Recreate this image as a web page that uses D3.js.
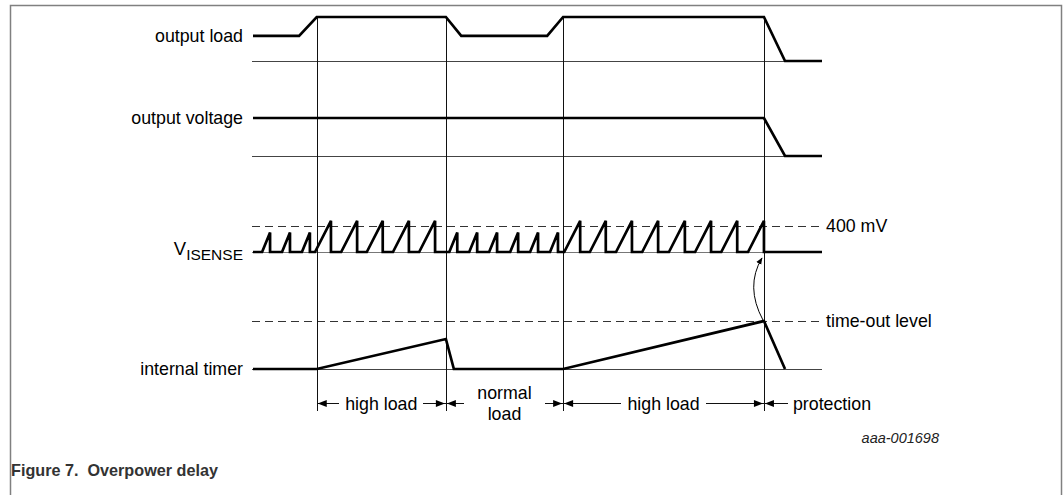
<!DOCTYPE html>
<html><head><meta charset="utf-8">
<script src="https://cdn.jsdelivr.net/npm/d3@7"></script>
<style>
html,body{margin:0;padding:0;background:#fff;}
svg{display:block;font-family:"Liberation Sans",Arial,sans-serif;}
</style></head><body>
<svg id="chart" width="1064" height="495"></svg>
<script>
// ---------------- data (time in arbitrary units 0..100) ----------------
const timeDomain = [0, 100];
const phaseBoundaries = [11.2, 33.9, 54.5, 89.8];
const phaseLabels = [["high load"], ["normal", "load"], ["high load"], ["protection"]];
const signalLabels = ["output load", "output voltage", "V", "internal timer"];
const visenseSub = "ISENSE";
const thresholdLabel = "400 mV";
const timeoutLabel = "time-out level";
const figureId = "aaa-001698";
const caption = "Figure 7.  Overpower delay";

const outputLoadT = [0, 8.1, 11.2, 33.9, 36.6, 51.7, 54.5, 89.8, 93.5, 100];
const outputLoadV = [0.57, 0.57, 1, 1, 0.57, 0.57, 1, 1, 0, 0];
const outputVoltageT = [0, 89.8, 93.5, 100];
const outputVoltageV = [1, 1, 0, 0];
const timerT = [0, 11.2, 33.9, 35.3, 54.5, 89.8, 93.5];
const timerV = [0, 0, 0.625, 0, 0, 1, 0];

// V_ISENSE sawtooth: peak time, peak value (mV), ramp duration
const visensePeakT = [3.0, 6.5, 10.0, 13.7, 18.3, 22.8, 27.4, 32.0,
  35.9, 39.4, 42.9, 46.6, 50.1, 53.6,
  57.5, 62.0, 66.6, 71.2, 75.9, 80.5, 85.1, 89.8];
const visensePeakMV = [300, 300, 300, 480, 480, 480, 480, 480,
  300, 300, 300, 300, 300, 300,
  480, 480, 480, 480, 480, 480, 480, 480];
const visenseRamp = [1.4, 1.4, 1.4, 2.8, 2.8, 2.8, 2.8, 2.8,
  1.4, 1.4, 1.4, 1.4, 1.4, 1.4,
  2.8, 2.8, 2.8, 2.8, 2.8, 2.8, 2.8, 2.8];
const thresholdMV = 400;
const timeoutLevel = 1;

// ---------------- drawing ----------------
const svg = d3.select("#chart");
const ink = "#000";
const FS = 17.8;

// frame
svg.append("rect").attr("x", 10.5).attr("y", 5.5).attr("width", 1051).attr("height", 520)
  .attr("fill", "none").attr("stroke", "#808080").attr("stroke-width", 1.5);

const x = d3.scaleLinear().domain(timeDomain).range([253, 822]);
const xBase = [252, 822];
const yLoad = d3.scaleLinear().domain([0, 1]).range([61, 17]);
const yVolt = d3.scaleLinear().domain([0, 1]).range([156, 118]);
const yVis = d3.scaleLinear().domain([0, thresholdMV]).range([252, 226]);
const yTim = d3.scaleLinear().domain([0, 1]).range([369, 321]);

const thin = (x1, y1, x2, y2, dash) => {
  const l = svg.append("line").attr("x1", x1).attr("y1", y1).attr("x2", x2).attr("y2", y2)
    .attr("stroke", "#111").attr("stroke-width", 1).attr("shape-rendering", "crispEdges");
  if (dash) l.attr("stroke-dasharray", dash);
  return l;
};

// thin baselines
thin(xBase[0], yLoad(0) + 0.5, xBase[1], yLoad(0) + 0.5).attr("stroke", "#444");
thin(xBase[0], yVolt(0) + 0.5, xBase[1], yVolt(0) + 0.5).attr("stroke", "#444");
thin(xBase[0], yVis(0) + 0.5, xBase[1], yVis(0) + 0.5).attr("stroke", "#777");
thin(xBase[0], yTim(0) + 0.5, xBase[1], yTim(0) + 0.5).attr("stroke", "#444");

// dashed reference levels
thin(xBase[0], yVis(thresholdMV) + 0.5, 820, yVis(thresholdMV) + 0.5, "8,5").attr("stroke", "#333");
thin(xBase[0], yTim(timeoutLevel) + 0.5, 820, yTim(timeoutLevel) + 0.5, "8,5").attr("stroke", "#333");

// vertical phase lines
phaseBoundaries.forEach(t => thin(Math.round(x(t)) + 0.5, yLoad(1), Math.round(x(t)) + 0.5, 411));

// signals
const drawSig = (pts, y) => svg.append("path")
  .attr("d", d3.line().x(d => x(d[0])).y(d => y(d[1]))(pts))
  .attr("fill", "none").attr("stroke", ink).attr("stroke-width", 2.7)
  .attr("stroke-linejoin", "miter");

drawSig(outputLoadT.map((t, i) => [t, outputLoadV[i]]), yLoad);
drawSig(outputVoltageT.map((t, i) => [t, outputVoltageV[i]]), yVolt);
drawSig(timerT.map((t, i) => [t, timerV[i]]), yTim);

const visPts = [[timeDomain[0], 0]];
visensePeakT.forEach((t, i) => {
  visPts.push([t - visenseRamp[i], 0], [t, visensePeakMV[i]], [t, 0]);
});
visPts.push([timeDomain[1], 0]);
drawSig(visPts, yVis);

// signal labels
const lab = svg.append("g").attr("font-size", FS).attr("fill", ink).attr("text-anchor", "end");
const rowsY = [yLoad(0.57), yVolt(1), yVis(0), yTim(0)];
signalLabels.forEach((s, i) => {
  const t = lab.append("text").attr("x", 243).attr("y", rowsY[i] + 6).text(s);
  if (i === 2) {
    t.attr("font-size", 18.5).attr("y", rowsY[i] + 3);
    t.append("tspan").attr("font-size", 15.5).attr("dy", 4.5).text(visenseSub);
  }
});

// right-hand level labels
svg.append("text").attr("x", 826).attr("y", yVis(thresholdMV) + 6).attr("font-size", FS).text(thresholdLabel);
svg.append("text").attr("x", 826).attr("y", yTim(timeoutLevel) + 6).attr("font-size", FS).text(timeoutLabel);

// curved arrow from timer peak to V_ISENSE
svg.append("defs").append("marker").attr("id", "ah").attr("viewBox", "0 0 10 10")
  .attr("refX", 9).attr("refY", 5).attr("markerWidth", 7).attr("markerHeight", 7)
  .attr("markerUnits", "userSpaceOnUse").attr("orient", "auto")
  .append("path").attr("d", "M0,1 L10,5 L0,9 z").attr("fill", ink);
const px = x(phaseBoundaries[3]);
svg.append("path")
  .attr("d", `M${px - 1},${yTim(timeoutLevel) - 1} Q${px - 19},${(yTim(timeoutLevel) + yVis(0)) / 2} ${px - 2},${yVis(0) + 6}`)
  .attr("fill", "none").attr("stroke", ink).attr("stroke-width", 1).attr("marker-end", "url(#ah)");

// phase annotation arrows
const ay = 403.5;
const head = (xt, dir) => svg.append("path")
  .attr("d", `M${xt},${ay} L${xt + dir * 9},${ay - 3.5} L${xt + dir * 9},${ay + 3.5} Z`).attr("fill", ink);
const bounds = phaseBoundaries.map(x);
const ends = [bounds[1], bounds[2], bounds[3], null];
phaseLabels.forEach((lines, i) => {
  const x0 = bounds[i], x1 = ends[i];
  const g = svg.append("g").attr("font-size", FS).attr("fill", ink);
  let tx, w;
  if (x1 === null) {
    tx = x0 + 29;
    g.append("text").attr("x", tx).attr("y", ay + 6).text(lines[0]);
    thin(x0, ay, tx - 5, ay);
    head(x0 + 1, 1);
    return;
  }
  const cx = (x0 + x1) / 2;
  if (lines.length === 1) {
    const t = g.append("text").attr("x", cx).attr("y", ay + 6).attr("text-anchor", "middle").text(lines[0]);
    w = t.node().getComputedTextLength();
  } else {
    g.append("text").attr("x", cx).attr("y", ay - 5).attr("text-anchor", "middle").text(lines[0]);
    g.append("text").attr("x", cx).attr("y", ay + 16).attr("text-anchor", "middle").text(lines[1]);
    w = g.select("text").node().getComputedTextLength() + 14;
  }
  thin(x0, ay, cx - w / 2 - 6, ay);
  thin(cx + w / 2 + 6, ay, x1, ay);
  head(x0 + 1, 1);
  head(x1 - 1, -1);
});

// figure id and caption
svg.append("text").attr("x", 939).attr("y", 443).attr("font-size", 14.5).attr("font-style", "italic")
  .attr("text-anchor", "end").attr("fill", "#222").text(figureId);
svg.append("text").attr("x", 11).attr("y", 476).attr("font-size", 16.2).attr("font-weight", "bold")
  .attr("fill", "#333").style("white-space", "pre").text(caption);
</script>
</body></html>
